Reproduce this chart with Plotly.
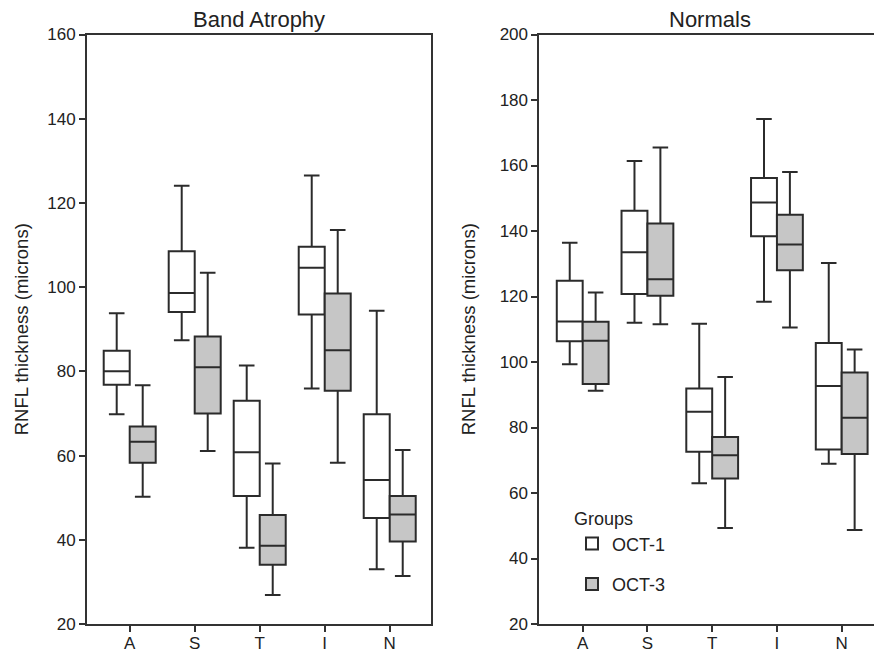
import plotly.graph_objects as go
from plotly.subplots import make_subplots

regions = ["A", "S", "T", "I", "N"]

# Band Atrophy
ba_oct1_low = [69.8, 87.4, 38.1, 75.9, 33.0]
ba_oct1_q1 = [76.8, 94.1, 50.4, 93.5, 45.2]
ba_oct1_med = [80.0, 98.6, 60.8, 104.6, 54.2]
ba_oct1_q3 = [84.9, 108.5, 73.0, 109.6, 69.8]
ba_oct1_high = [93.8, 124.1, 81.4, 126.5, 94.4]

ba_oct3_low = [50.2, 61.1, 26.9, 58.3, 31.4]
ba_oct3_q1 = [58.3, 70.0, 34.1, 75.4, 39.6]
ba_oct3_med = [63.3, 81.0, 38.6, 85.0, 46.0]
ba_oct3_q3 = [66.9, 88.3, 45.9, 98.5, 50.4]
ba_oct3_high = [76.7, 103.4, 58.1, 113.6, 61.3]

# Normals
n_oct1_low = [99.3, 112.0, 63.0, 118.4, 68.9]
n_oct1_q1 = [106.3, 120.8, 72.6, 138.4, 73.3]
n_oct1_med = [112.4, 133.5, 84.8, 148.7, 92.7]
n_oct1_q3 = [124.8, 146.2, 91.9, 156.2, 105.8]
n_oct1_high = [136.4, 161.4, 111.7, 174.2, 130.2]

n_oct3_low = [91.2, 111.5, 49.3, 110.5, 48.7]
n_oct3_q1 = [93.3, 120.2, 64.4, 128.0, 71.9]
n_oct3_med = [106.5, 125.3, 71.5, 135.9, 83.0]
n_oct3_q3 = [112.3, 142.3, 77.1, 145.0, 96.8]
n_oct3_high = [121.2, 165.5, 95.4, 158.0, 103.8]

group_names = ["OCT-1", "OCT-3"]
fill_colors = ["#ffffff", "#c6c6c6"]
line_color = "#2b2b2b"
font_family = "Liberation Sans, Arial, sans-serif"

W, H = 874, 654

fig = make_subplots(rows=1, cols=2)

def add_box(col, name, fill, low, q1, med, q3, high, show):
    fig.add_trace(
        go.Box(
            x=regions, lowerfence=low, q1=q1, median=med, q3=q3, upperfence=high,
            name=name, legendgroup=name, showlegend=show,
            alignmentgroup="panel%d" % col, offsetgroup=name,
            fillcolor=fill, line=dict(color=line_color, width=2),
            whiskerwidth=0.6, boxpoints=False,
        ),
        row=1, col=col,
    )

add_box(1, group_names[0], fill_colors[0], ba_oct1_low, ba_oct1_q1, ba_oct1_med, ba_oct1_q3, ba_oct1_high, False)
add_box(1, group_names[1], fill_colors[1], ba_oct3_low, ba_oct3_q1, ba_oct3_med, ba_oct3_q3, ba_oct3_high, False)
add_box(2, group_names[0], fill_colors[0], n_oct1_low, n_oct1_q1, n_oct1_med, n_oct1_q3, n_oct1_high, True)
add_box(2, group_names[1], fill_colors[1], n_oct3_low, n_oct3_q1, n_oct3_med, n_oct3_q3, n_oct3_high, True)

y_bot = (H - 624) / H
y_top = (H - 34.5) / H

axis_common = dict(
    showline=True, linecolor="#333333", linewidth=1.8, ticks="outside",
    ticklen=6, tickwidth=1.8, tickcolor="#333333", showgrid=False, zeroline=False,
    automargin=False,
    tickfont=dict(size=17, color="#222222", family=font_family),
)

fig.update_xaxes(axis_common)
fig.update_yaxes(axis_common)
fig.update_xaxes(ticklabelstandoff=-3)

fig.update_layout(
    xaxis=dict(domain=[87 / W, 431 / W], range=[-0.657, 4.635], mirror=True, type="category"),
    xaxis2=dict(domain=[539.3 / W, 1.0], range=[-0.670, 4.499], mirror=True, type="category"),
    yaxis=dict(domain=[y_bot, y_top], range=[20, 160], dtick=20, mirror=True,
               title=dict(text="RNFL thickness (microns)", standoff=14,
                          font=dict(size=18.5, color="#222222", family=font_family))),
    yaxis2=dict(domain=[y_bot, y_top], range=[20, 200], dtick=20, mirror=False,
                title=dict(text="RNFL thickness (microns)", standoff=19,
                           font=dict(size=18.5, color="#222222", family=font_family))),
    boxmode="group", boxgap=0.2, boxgroupgap=0.0,
    width=W, height=H,
    margin=dict(l=0, r=0, t=0, b=0),
    paper_bgcolor="white", plot_bgcolor="white",
    font=dict(family=font_family, color="#222222"),
    legend=dict(
        title=dict(text="Groups", font=dict(size=18, family=font_family, color="#222222")),
        x=572 / W, y=(H - 502) / H, xanchor="left", yanchor="top",
        bgcolor="rgba(0,0,0,0)", font=dict(size=18, family=font_family, color="#222222"),
        tracegroupgap=14, itemwidth=30,
    ),
    annotations=[
        dict(text="Band Atrophy", x=259 / W, y=(H - 19) / H, xref="paper", yref="paper",
             xanchor="center", yanchor="middle",
             showarrow=False, font=dict(size=22, family=font_family, color="#222222")),
        dict(text="Normals", x=710 / W, y=(H - 19) / H, xref="paper", yref="paper",
             xanchor="center", yanchor="middle",
             showarrow=False, font=dict(size=22, family=font_family, color="#222222")),
    ],
)

fig.write_html("out.html", config={"displayModeBar": False},
               post_script="document.body.style.margin='0';")
